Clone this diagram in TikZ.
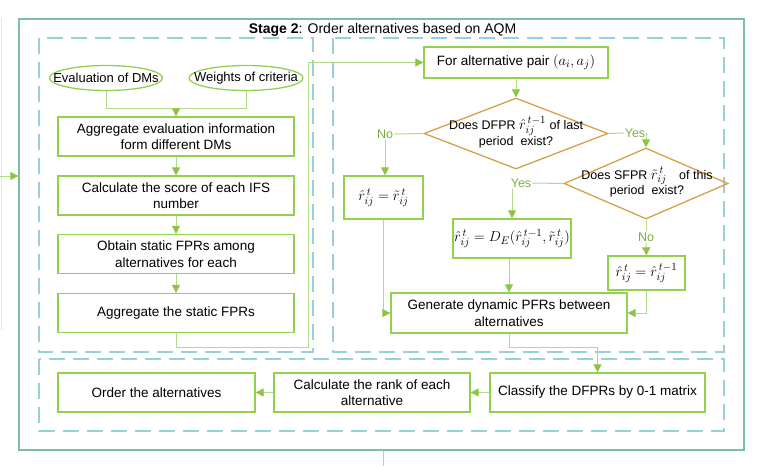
\documentclass[tikz,border=0pt]{standalone}
\usepackage{fontspec}
\setmainfont{Liberation Sans}
\usetikzlibrary{shapes.geometric,arrows.meta,calc}
\definecolor{boxgreen}{RGB}{146,208,80}
\definecolor{linegreen}{RGB}{178,218,135}
\definecolor{arrowgreen}{RGB}{140,196,68}
\definecolor{labelgreen}{RGB}{120,176,60}
\definecolor{diaorange}{RGB}{212,160,72}
\definecolor{dashblue}{RGB}{152,208,218}
\definecolor{framegreen}{RGB}{122,192,162}
\definecolor{faint}{RGB}{215,236,230}
\tikzset{
  box/.style={draw=boxgreen, line width=1.3pt, fill=white, align=center, inner sep=1pt,
    font=\fontsize{13.5}{16.5}\selectfont},
  mathbox/.style={box, font=\fontsize{15.5}{18}\selectfont},
  oval/.style={ellipse, draw=boxgreen, line width=1.3pt, fill=white, inner sep=0pt},
  ovaltext/.style={inner sep=0pt, font=\fontsize{13}{16}\selectfont},
  dia/.style={diamond, draw=diaorange, line width=1.3pt, inner sep=0pt},
  diatext/.style={align=center, inner sep=0pt, font=\fontsize{12.5}{15}\selectfont},
  conn/.style={draw=linegreen, line width=1pt},
  arr/.style={conn, -{Triangle[length=8pt,width=8pt,color=arrowgreen]}},
  lbl/.style={text=labelgreen, inner sep=1pt, font=\fontsize{12.5}{15}\selectfont},
  dbox/.style={draw=dashblue, line width=1.2pt, dash pattern=on 16pt off 8pt},
}
\begin{document}
\begin{tikzpicture}[x=1pt,y=-1pt]
\useasboundingbox (0,0) rectangle (760,466);
% dashed regions
\draw[dbox] (39,38) rectangle (313,352);
\draw[dbox] (333,38) rectangle (724,352);
\draw[dbox] (39,359) rectangle (724,431);
% outer frame
\node[draw=framegreen, line width=1.3pt, minimum width=725pt, minimum height=431pt, inner sep=0pt] (frame) at (381.5,234.5) {};
\node[inner sep=0pt, font=\fontsize{14}{17}\selectfont] (title) at (382.5,30) {\textbf{Stage 2}: Order alternatives based on AQM};
% faint left line and incoming arrow
\coordinate (ftop) at (1,18);
\coordinate (fbot) at (1,330);
\draw[faint, line width=1pt] (ftop) -- (fbot);
\coordinate (lin) at (0,176);
\draw[arr] (lin) -- (lin -| frame.west);
\coordinate (bot) at (383,466);
\draw[conn] (bot) -- (bot |- frame.south);
% left column
\node[oval, minimum width=113pt, minimum height=25pt] (e1) at (106,78) {};
\node[ovaltext] (e1t) at (106,78) {Evaluation of DMs};
\node[oval, minimum width=114pt, minimum height=25pt] (e2) at (246,78) {};
\node[ovaltext] (e2t) at (246,78) {Weights of criteria};
\node[box, minimum width=236pt, minimum height=39pt] (b1) at (176,136.5) {Aggregate evaluation information\\form different DMs};
\node[box, minimum width=236pt, minimum height=39pt] (b2) at (176,195.5) {Calculate the score of each IFS\\number};
\node[box, minimum width=236pt, minimum height=39pt] (b3) at (176,254) {Obtain static FPRs among\\alternatives for each};
\node[box, minimum width=236pt, minimum height=39pt] (b4) at (176,313) {Aggregate the static FPRs};
\coordinate (j1) at (176,108);
\draw[conn] (e1.south) |- (j1);
\draw[conn] (e2.south) |- (j1);
\draw[arr] (j1) -- (b1.north);
\draw[arr] (b1) -- (b2);
\draw[arr] (b2) -- (b3);
\draw[arr] (b3) -- (b4);
% right part
\node[box, minimum width=184pt, minimum height=31pt] (pair) at (516,62.5) {For alternative pair {\fontsize{15.5}{18}\selectfont$(a_i,a_j)$}};
\coordinate (c1) at (308,347);
\coordinate (c2) at (308,62.5);
\draw[arr] (b4.south) |- (c1) -- (c2) -- (pair.west);
\node[dia, minimum width=184pt, minimum height=71pt] (d1) at (516,133.5) {};
\node[diatext] (d1t) at (516,132) {Does DFPR {\fontsize{15}{15}\selectfont$\hat{r}_{ij}^{\,t-1}$} of last\\period\ \ exist?};
\draw[arr] (pair) -- (d1);
\node[dia, minimum width=164pt, minimum height=71pt] (d2) at (646,183.5) {};
\node[diatext] (d2t) at (647,182) {Does SFPR {\fontsize{15}{15}\selectfont$\tilde{r}_{ij}^{\,t}$}\quad of this\\period\ \ exist?};
\node[lbl] (no1) at (385,134) {No};
\node[lbl] (yes1) at (635,133) {Yes};
\node[lbl] (yes2) at (521,183) {Yes};
\node[lbl] (no2) at (646,237) {No};
\node[mathbox, minimum width=79pt, minimum height=43pt] (r1) at (383.5,197.5) {$\hat{r}_{ij}^{\,t}=\tilde{r}_{ij}^{\,t}$};
\node[mathbox, minimum width=114pt, minimum height=39pt] (de) at (512,238.5) {$\hat{r}_{ij}^{\,t}=D_E(\hat{r}_{ij}^{\,t-1},\tilde{r}_{ij}^{\,t})$};
\node[mathbox, minimum width=77pt, minimum height=34pt] (r2) at (646.5,273) {$\hat{r}_{ij}^{\,t}=\hat{r}_{ij}^{\,t-1}$};
\node[box, minimum width=236pt, minimum height=40pt] (gen) at (509,313) {Generate dynamic PFRs between\\alternatives};
\draw[conn] (d1.west) -- (no1.east);
\draw[arr] (no1.south) -- (no1.south |- r1.north);
\draw[conn] (d1.east) -- (yes1.west);
\draw[arr] (yes1.east) -| (d2.north);
\draw[conn] (d2.west) -- (yes2.east);
\draw[arr] (yes2.south -| de.north) -- (de.north);
\draw[conn] (d2.south) -- (no2.north);
\draw[arr] (no2.south) -- (r2.north);
\draw[arr] (r1.south) |- (gen.west);
\draw[arr] (r2.south) |- (gen.east);
\draw[arr] (de.south -| gen.north) -- (gen.north);
% bottom row
\node[box, minimum width=215pt, minimum height=39pt] (cls) at (597.5,392.5) {Classify the DFPRs by 0-1 matrix};
\node[box, minimum width=196pt, minimum height=39pt] (rank) at (372,392.5) {Calculate the rank of each\\alternative};
\node[box, minimum width=197pt, minimum height=39pt] (ord) at (156.5,392.5) {Order the alternatives};
\coordinate (c3) at (597.5,347);
\draw[arr] (gen.south) |- (c3) -- (cls.north);
\draw[arr] (cls) -- (rank);
\draw[arr] (rank) -- (ord);
\end{tikzpicture}
\end{document}
